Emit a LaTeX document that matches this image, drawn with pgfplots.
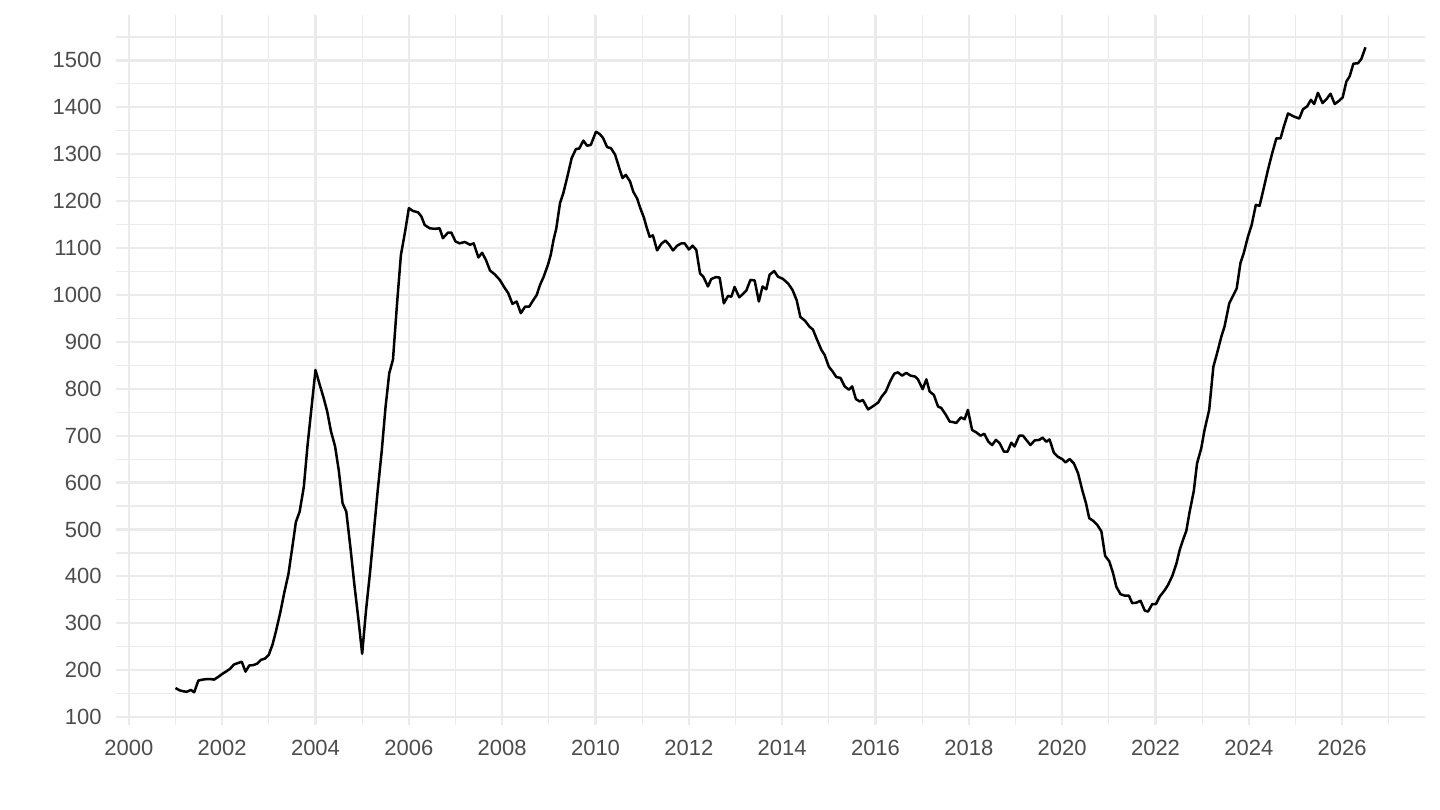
\documentclass[border=0pt]{standalone}
\usepackage{pgfplots}
\pgfplotsset{compat=1.18}
\usepackage{fontspec}
\setmainfont{Liberation Sans}

\definecolor{gridgray}{HTML}{EBEBEB}
\definecolor{labelgray}{HTML}{4D4D4D}

\begin{document}
\begin{tikzpicture}
\useasboundingbox (0,0) rectangle (720bp,405bp);
\begin{axis}[
    at={(58bp,42.5bp)}, anchor=south west,
    scale only axis, width=654.5bp, height=355bp,
    xmin=1999.725, xmax=2027.775,
    ymin=83.2, ymax=1596.8,
    axis line style={draw=none},
    tick style={draw=none},
    xtick={2000,2002,...,2026},
    minor xtick={2001,2003,...,2027},
    ytick={100,200,...,1500},
    minor ytick={50,150,...,1550},
    grid=both,
    major grid style={gridgray, line width=1.1bp},
    minor grid style={gridgray, line width=0.6bp},
    /pgf/number format/.cd, 1000 sep={}, assume math mode=true,
    /pgfplots/.cd,
    tick label style={font=\fontsize{11bp}{13bp}\selectfont, text=labelgray, inner sep=0pt},
    yticklabel style={xshift=-7bp},
    xticklabel style={yshift=-7.2bp},
]
\addplot[black, line width=1.25bp, line join=round] table {
x y
2001.00 162
2001.09 157
2001.17 155
2001.24 154
2001.33 158
2001.40 153
2001.49 178
2001.58 180
2001.67 181
2001.75 181
2001.83 180
2001.92 186
2002.00 192
2002.08 197
2002.17 203
2002.25 212
2002.33 215
2002.42 218
2002.50 197
2002.58 210
2002.67 211
2002.75 214
2002.83 222
2002.92 225
2003.00 233
2003.08 255
2003.15 282
2003.25 325
2003.33 365
2003.42 405
2003.50 460
2003.58 516
2003.66 538
2003.75 591
2003.83 680
2003.92 765
2004.00 840
2004.08 812
2004.17 782
2004.25 752
2004.33 710
2004.42 677
2004.50 625
2004.58 556
2004.66 538
2004.75 460
2004.83 385
2004.92 308
2005.00 235
2005.08 325
2005.17 410
2005.25 495
2005.33 580
2005.42 668
2005.50 760
2005.58 833
2005.66 862
2005.75 985
2005.83 1085
2005.92 1135
2006.00 1185
2006.09 1179
2006.20 1176
2006.27 1167
2006.34 1149
2006.45 1142
2006.56 1141
2006.66 1142
2006.73 1121
2006.84 1133
2006.91 1133
2007.00 1114
2007.09 1110
2007.20 1113
2007.31 1107
2007.39 1110
2007.49 1080
2007.57 1090
2007.65 1075
2007.74 1052
2007.84 1044
2007.95 1032
2008.06 1014
2008.13 1004
2008.22 981
2008.31 986
2008.40 961
2008.49 975
2008.58 975
2008.66 988
2008.74 1000
2008.81 1021
2008.89 1039
2008.98 1064
2009.04 1085
2009.10 1117
2009.16 1142
2009.24 1196
2009.31 1217
2009.38 1245
2009.49 1292
2009.58 1311
2009.65 1312
2009.74 1329
2009.82 1318
2009.90 1320
2010.01 1348
2010.09 1343
2010.16 1335
2010.25 1315
2010.33 1313
2010.42 1299
2010.51 1270
2010.58 1249
2010.65 1256
2010.74 1242
2010.81 1220
2010.89 1206
2010.96 1185
2011.04 1164
2011.09 1146
2011.16 1124
2011.23 1127
2011.32 1095
2011.41 1109
2011.50 1116
2011.58 1107
2011.66 1095
2011.75 1105
2011.84 1110
2011.91 1110
2012.00 1097
2012.08 1105
2012.16 1096
2012.24 1046
2012.31 1039
2012.41 1018
2012.48 1034
2012.58 1038
2012.66 1037
2012.75 982
2012.84 998
2012.91 996
2012.98 1017
2013.08 995
2013.16 1002
2013.23 1009
2013.32 1032
2013.41 1031
2013.50 986
2013.58 1018
2013.66 1012
2013.73 1043
2013.83 1051
2013.91 1039
2014.02 1034
2014.13 1024
2014.22 1011
2014.31 989
2014.39 953
2014.49 945
2014.58 933
2014.66 926
2014.75 904
2014.84 883
2014.91 872
2015.00 847
2015.08 837
2015.16 825
2015.25 823
2015.34 805
2015.43 798
2015.50 805
2015.58 778
2015.66 773
2015.73 776
2015.84 756
2015.95 763
2016.06 771
2016.13 783
2016.22 794
2016.31 815
2016.40 832
2016.48 835
2016.57 828
2016.66 834
2016.75 828
2016.85 826
2016.91 820
2017.01 799
2017.09 820
2017.16 794
2017.25 787
2017.34 762
2017.41 759
2017.51 744
2017.59 730
2017.66 729
2017.73 727
2017.83 739
2017.91 735
2017.98 755
2018.07 712
2018.16 707
2018.25 700
2018.33 704
2018.42 687
2018.50 680
2018.58 691
2018.66 684
2018.75 666
2018.83 666
2018.91 685
2018.98 677
2019.08 700
2019.16 700
2019.23 691
2019.32 680
2019.41 690
2019.51 691
2019.58 696
2019.66 687
2019.73 692
2019.82 664
2019.91 655
2020.00 650
2020.07 643
2020.16 650
2020.25 641
2020.34 620
2020.43 584
2020.51 556
2020.58 524
2020.67 518
2020.75 510
2020.84 496
2020.92 444
2021.01 432
2021.09 407
2021.16 378
2021.25 362
2021.34 359
2021.43 359
2021.50 343
2021.59 344
2021.68 348
2021.77 327
2021.84 325
2021.93 341
2022.01 341
2022.09 357
2022.20 371
2022.27 382
2022.36 401
2022.45 428
2022.52 457
2022.59 478
2022.66 497
2022.73 537
2022.82 582
2022.89 641
2022.98 673
2023.05 712
2023.15 755
2023.24 847
2023.32 876
2023.41 911
2023.48 933
2023.58 982
2023.65 996
2023.74 1014
2023.82 1068
2023.89 1089
2023.98 1124
2024.06 1149
2024.15 1192
2024.23 1190
2024.32 1228
2024.41 1267
2024.50 1302
2024.59 1334
2024.68 1334
2024.75 1359
2024.84 1387
2024.95 1381
2025.08 1376
2025.16 1396
2025.25 1402
2025.33 1416
2025.40 1407
2025.48 1431
2025.58 1409
2025.66 1417
2025.75 1429
2025.84 1407
2025.91 1412
2026.01 1421
2026.09 1455
2026.16 1466
2026.24 1493
2026.34 1494
2026.41 1503
2026.50 1528
};
\end{axis}
\end{tikzpicture}
\end{document}
